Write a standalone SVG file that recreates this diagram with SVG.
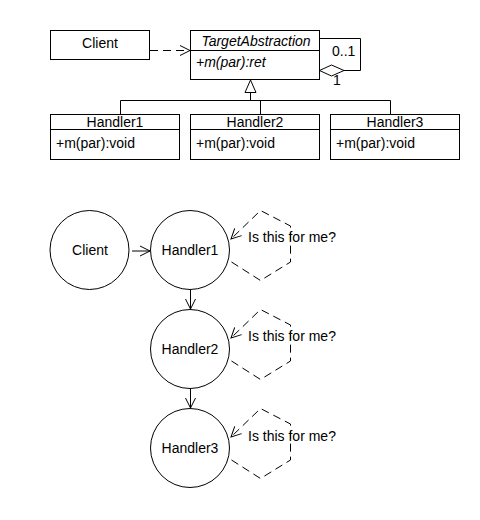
<svg xmlns="http://www.w3.org/2000/svg" width="480" height="520" viewBox="0 0 480 520">
<defs>
<style>
.b{fill:#fff;stroke:#000;stroke-width:1}
.l{fill:none;stroke:#000;stroke-width:1}
.d{fill:none;stroke:#000;stroke-width:1;stroke-dasharray:8,5}
text{font-family:"Liberation Sans",Arial,sans-serif;font-size:14px;fill:#000}
.c{text-anchor:middle}
.i{font-style:italic}
</style>
<marker id="open" markerWidth="12" markerHeight="12" refX="11" refY="6" orient="auto" markerUnits="userSpaceOnUse">
<path d="M1,1 L11,6 L1,11" fill="none" stroke="#000" stroke-width="1"/>
</marker>
</defs>
<rect width="480" height="520" fill="#fff"/>

<g id="client-box"><rect class="b" x="50.5" y="30.5" width="99" height="29"/><text class="c" x="100" y="48">Client</text></g>
<g id="target"><rect class="b" x="190.5" y="30.5" width="129" height="49"/><line class="l" x1="190.5" y1="50.5" x2="319.5" y2="50.5"/><text class="c i" x="256" y="46">TargetAbstraction</text><text class="i" x="196" y="67">+m(par):ret</text></g>
<g id="handler1-box"><rect class="b" x="50.5" y="114.5" width="129" height="45"/><line class="l" x1="50.5" y1="129.5" x2="179.5" y2="129.5"/><text class="c" x="115" y="127">Handler1</text><text x="56" y="148">+m(par):void</text></g>
<g id="handler2-box"><rect class="b" x="190.5" y="114.5" width="129" height="45"/><line class="l" x1="190.5" y1="129.5" x2="319.5" y2="129.5"/><text class="c" x="255" y="127">Handler2</text><text x="196" y="148">+m(par):void</text></g>
<g id="handler3-box"><rect class="b" x="330.5" y="114.5" width="129" height="45"/><line class="l" x1="330.5" y1="129.5" x2="459.5" y2="129.5"/><text class="c" x="395" y="127">Handler3</text><text x="336" y="148">+m(par):void</text></g>

<g id="client-c"><circle class="b" cx="89.5" cy="250" r="39.5"/><text class="c" x="90" y="255">Client</text></g>
<g id="handler1-c"><circle class="b" cx="190" cy="250" r="39.5"/><text class="c" x="190" y="255">Handler1</text></g>
<g id="handler2-c"><circle class="b" cx="190" cy="349" r="39.5"/><text class="c" x="190" y="354">Handler2</text></g>
<g id="handler3-c"><circle class="b" cx="190" cy="448" r="39.5"/><text class="c" x="190" y="453">Handler3</text></g>

<g id="connectors">
<line class="d" x1="150" y1="50.5" x2="190" y2="50.5" marker-end="url(#open)"/>
<path class="l" d="M319.5,38.5 H360.5 V70.5 H344"/>
<path class="b" d="M319.5,70.5 L331.5,65 L344,70.5 L331.5,76 Z"/>
<text x="332" y="56">0..1</text>
<text x="333" y="85">1</text>
<path class="l" d="M120.5,114 V100.5 H390.5 V114 M260.5,100.5 V114 M250.5,100.5 V92.5"/>
<path class="b" d="M245,92.5 L250.5,80 L256,92.5 Z"/>

<line class="l" x1="132" y1="251" x2="150" y2="251" marker-end="url(#open)"/>
<line class="l" x1="190.5" y1="290" x2="190.5" y2="309" marker-end="url(#open)"/>
<line class="l" x1="190.5" y1="389" x2="190.5" y2="408" marker-end="url(#open)"/>

<path class="d" d="M231.5,262 L260.5,280.5 L290.5,262 V226 L260.5,210.5 L231,239" marker-end="url(#open)"/>
<path class="d" d="M231.5,361 L260.5,379.5 L290.5,361 V325 L260.5,309.5 L231,338" marker-end="url(#open)"/>
<path class="d" d="M231.5,460 L260.5,478.5 L290.5,460 V424 L260.5,408.5 L231,437" marker-end="url(#open)"/>
</g>
<text x="248" y="242">Is this for me?</text>
<text x="248" y="341">Is this for me?</text>
<text x="248" y="441">Is this for me?</text>
</svg>
